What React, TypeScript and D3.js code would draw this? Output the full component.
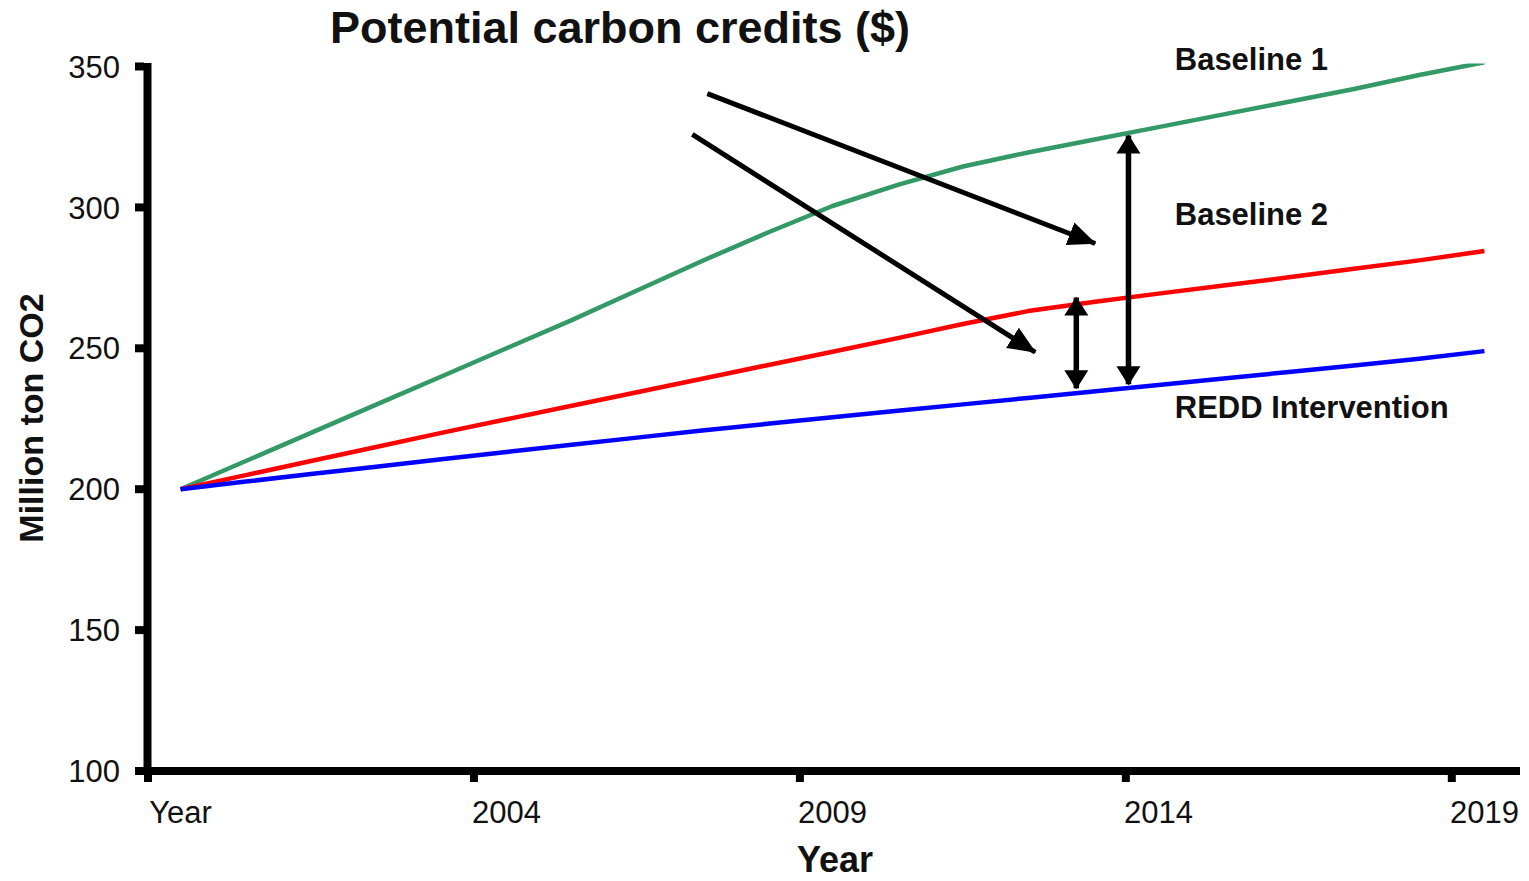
import React from "react";
import * as d3 from "d3";

const categories = [
  "Year", "2000", "2001", "2002", "2003", "2004", "2005", "2006", "2007", "2008",
  "2009", "2010", "2011", "2012", "2013", "2014", "2015", "2016", "2017", "2018", "2019",
];
const xTickLabels = ["Year", "2004", "2009", "2014", "2019"];
const yTicks = [100, 150, 200, 250, 300, 350];

const baseline1 = [200, 210, 220, 230, 240, 250, 260, 270.5, 281, 291, 300.5, 308, 314.5, 319.5, 324, 328.5, 333, 337.5, 342, 347, 351.5];
const baseline2 = [200, 205, 210, 215, 220, 224.8, 229.6, 234.4, 239.2, 244, 248.8, 253.6, 258.6, 263.2, 266.4, 269.4, 272.3, 275.2, 278.2, 281.2, 284.5];
const redd = [200, 202.7, 205.4, 208, 210.6, 213.2, 215.8, 218.3, 220.8, 223.2, 225.5, 227.8, 230.1, 232.4, 234.7, 237, 239.3, 241.6, 243.9, 246.3, 249];

const seriesNames = ["Baseline 1", "Baseline 2", "REDD Intervention"];
const seriesColors = ["#339966", "#ff0000", "#0000ff"];

// annotation arrows, in (category index, value) units
const pointerArrows = [
  { x1: 8.08, y1: 340.4, x2: 14.03, y2: 287.2 },
  { x1: 7.85, y1: 325.9, x2: 13.11, y2: 248.6 },
];
const gapArrows = [
  { x: 13.74, y1: 235.8, y2: 268 },
  { x: 14.54, y1: 237.2, y2: 325.5 },
];
const seriesLabels = [
  { text: "Baseline 1", x: 15.25, y: 348.8 },
  { text: "Baseline 2", x: 15.25, y: 293.8 },
  { text: "REDD Intervention", x: 15.25, y: 225.3 },
];

const FONT = "'Liberation Sans', Arial, sans-serif";

export default function App() {
  const W = 1529;
  const H = 881;
  const left = 148;
  const right = 1517;
  const top = 66.5;
  const bottom = 771;

  const x = d3.scaleBand<string>().domain(categories).range([left, right]).paddingInner(0).paddingOuter(0);
  const step = x.step();
  const x0 = x(categories[0]) as number;
  const xi = (i: number) => x0 + step / 2 + i * step;
  const y = d3.scaleLinear().domain([100, 350]).range([bottom, top]);

  const line = d3
    .line<number>()
    .x((_, i) => xi(i))
    .y((d) => y(d));

  const seriesData = [baseline1, baseline2, redd];
  const tickEvery = 5;
  const xTickBoundaries = d3.range(0, categories.length, tickEvery);

  return (
    <svg
      width={W}
      height={H}
      style={{ position: "absolute", left: 0, top: 0, background: "#fff" }}
      fontFamily={FONT}
    >
      <defs>
        <clipPath id="plotClip">
          <rect x={left} y={top - 3} width={right - left + 10} height={bottom - top + 3} />
        </clipPath>
        <marker id="headSingle" markerUnits="userSpaceOnUse" viewBox="0 -13 28 26" refX={27} refY={0} markerWidth={28} markerHeight={26} orient="auto">
          <path d="M0,-12 L28,0 L0,12 Z" fill="#000" />
        </marker>
        <marker id="headDouble" markerUnits="userSpaceOnUse" viewBox="0 -13 19 26" refX={18} refY={0} markerWidth={19} markerHeight={26} orient="auto-start-reverse">
          <path d="M0,-12 L19,0 L0,12 Z" fill="#000" />
        </marker>
      </defs>

      {/* title */}
      <text x={620} y={43} textAnchor="middle" fontSize={45} fontWeight="bold" fill="#111">
        Potential carbon credits ($)
      </text>

      {/* series */}
      <g clipPath="url(#plotClip)">
        {seriesData.map((s, k) => (
          <path key={seriesNames[k]} d={line(s) || ""} fill="none" stroke={seriesColors[k]} strokeWidth={4.5} strokeLinejoin="round" />
        ))}
      </g>

      {/* axes */}
      <line x1={left - 0.5} x2={left - 0.5} y1={63} y2={bottom + 4} stroke="#000" strokeWidth={8} />
      <line x1={left - 5} x2={right + 3} y1={bottom} y2={bottom} stroke="#000" strokeWidth={8} />
      {yTicks.map((t) => (
        <g key={t}>
          <line x1={left - 13} x2={left - 4} y1={y(t)} y2={y(t)} stroke="#000" strokeWidth={8} />
          <text x={120} y={y(t)} dy="0.36em" textAnchor="end" fontSize={31} fill="#111">
            {t}
          </text>
        </g>
      ))}
      {xTickBoundaries.map((k) => (
        <line key={k} x1={x0 + k * step} x2={x0 + k * step} y1={bottom + 3} y2={bottom + 11} stroke="#000" strokeWidth={8} />
      ))}
      {xTickLabels.map((lab) => (
        <text key={lab} x={xi(categories.indexOf(lab))} y={823} textAnchor="middle" fontSize={31} fill="#111">
          {lab}
        </text>
      ))}

      {/* axis titles */}
      <text x={835} y={872} textAnchor="middle" fontSize={36} fontWeight="bold" fill="#111">
        Year
      </text>
      <text transform="translate(43,418) rotate(-90)" textAnchor="middle" fontSize={34} fontWeight="bold" fill="#111">
        Million ton CO2
      </text>

      {/* annotations */}
      {pointerArrows.map((a, i) => (
        <line key={"p" + i} x1={xi(a.x1)} y1={y(a.y1)} x2={xi(a.x2)} y2={y(a.y2)} stroke="#000" strokeWidth={5} markerEnd="url(#headSingle)" />
      ))}
      {gapArrows.map((a, i) => (
        <line key={"g" + i} x1={xi(a.x)} y1={y(a.y1)} x2={xi(a.x)} y2={y(a.y2)} stroke="#000" strokeWidth={5.5} markerStart="url(#headDouble)" markerEnd="url(#headDouble)" />
      ))}
      {seriesLabels.map((l) => (
        <text key={l.text} x={xi(l.x)} y={y(l.y)} fontSize={31} fontWeight="bold" fill="#111">
          {l.text}
        </text>
      ))}
    </svg>
  );
}
